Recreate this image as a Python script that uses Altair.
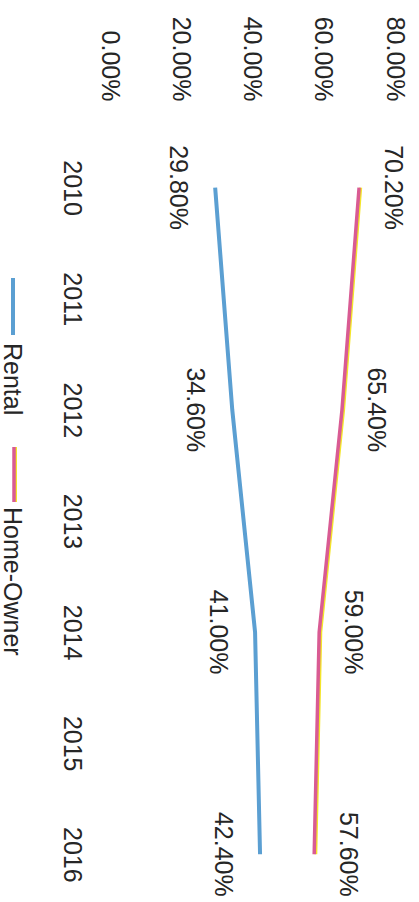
import altair as alt
import pandas as pd

# ---- data ----
years = [2010, 2012, 2014, 2016]
rental = [29.8, 34.6, 41.0, 42.4]
home_owner = [70.2, 65.4, 59.0, 57.6]
series_names = ["Rental", "Home-Owner"]
axis_years = [2010, 2011, 2012, 2013, 2014, 2015, 2016]
pct_ticks = [0, 20, 40, 60, 80]

df = pd.DataFrame({
    "year": years * 2,
    "series": [series_names[0]] * len(years) + [series_names[1]] * len(years),
    "value": rental + home_owner,
})

FONT = "Liberation Sans"
TXT = "#262626"
BLUE = "#5b9fd2"
PINK = "#d95b93"
YELLOW = "#f3e52a"
FS = 25

W, H = 285, 769

x_scale = alt.Scale(domain=[0, 80], nice=False, zero=True)
y_scale = alt.Scale(domain=[2009.5, 2016.42], nice=False, zero=False, reverse=True)

x_axis = alt.Axis(
    orient="top", values=pct_ticks,
    labelExpr="format(datum.value / 100, '.2%')",
    labelAngle=90, labelAlign="right", labelBaseline="middle",
    labelPadding=31, ticks=False, tickSize=0, domain=False, grid=False,
    title=None, labelFont=FONT, labelFontSize=FS, labelColor=TXT,
    labelOverlap=False, labelFlush=False,
)
y_axis = alt.Axis(
    orient="left", values=axis_years, format="d",
    labelAngle=90, labelAlign="center", labelBaseline="middle",
    labelPadding=38, ticks=False, tickSize=0, domain=False, grid=False,
    title=None, labelFont=FONT, labelFontSize=FS, labelColor=TXT,
    labelOverlap=False, labelFlush=False,
)

def X(field):
    return alt.X(field, scale=x_scale, axis=x_axis)

def Y():
    return alt.Y("year:Q", scale=y_scale, axis=y_axis)

base = alt.Chart(df)

rental_line = base.transform_filter(alt.datum.series == "Rental").mark_line(
    color=BLUE, strokeWidth=4
).encode(x=X("value:Q"), y=Y())

owner_glow = base.transform_filter(alt.datum.series == "Home-Owner").transform_calculate(
    shifted="datum.value + 0.45"
).mark_line(color=YELLOW, strokeWidth=3).encode(x=X("shifted:Q"), y=Y())

owner_line = base.transform_filter(alt.datum.series == "Home-Owner").mark_line(
    color=PINK, strokeWidth=3.5
).encode(x=X("value:Q"), y=Y())

label_calc = "format(datum.value / 100, '.2%')"

rental_labels = base.transform_filter(alt.datum.series == "Rental").transform_calculate(
    lab=label_calc
).mark_text(
    angle=90, align="center", baseline="middle", dy=37.5,
    font=FONT, fontSize=FS, color=TXT,
).encode(x=X("value:Q"), y=Y(), text="lab:N")

owner_labels = base.transform_filter(alt.datum.series == "Home-Owner").transform_calculate(
    lab=label_calc
).mark_text(
    angle=90, align="center", baseline="middle", dy=-34,
    font=FONT, fontSize=FS, color=TXT,
).encode(x=X("value:Q"), y=Y(), text="lab:N")

# ---- legend (rotated, drawn by hand) ----
one = pd.DataFrame({"k": [0]})
leg_rental_sym = alt.Chart(one).mark_rule(color=BLUE, strokeWidth=4).encode(
    x=alt.value(-96), y=alt.value(146), y2=alt.value(203)
)
leg_rental_txt = alt.Chart(one).mark_text(
    angle=90, align="left", baseline="middle", font=FONT, fontSize=FS, color=TXT,
    text=series_names[0],
).encode(x=alt.value(-97), y=alt.value(211))

leg_owner_glow = alt.Chart(one).mark_rule(color=YELLOW, strokeWidth=3).encode(
    x=alt.value(-93.5), y=alt.value(315), y2=alt.value(370)
)
leg_owner_sym = alt.Chart(one).mark_rule(color=PINK, strokeWidth=3.5).encode(
    x=alt.value(-95), y=alt.value(315), y2=alt.value(370)
)
leg_owner_txt = alt.Chart(one).mark_text(
    angle=90, align="left", baseline="middle", font=FONT, fontSize=FS, color=TXT,
    text=series_names[1],
).encode(x=alt.value(-97), y=alt.value(375))

chart = alt.layer(
    rental_line, owner_glow, owner_line, rental_labels, owner_labels,
    leg_rental_sym, leg_rental_txt, leg_owner_glow, leg_owner_sym, leg_owner_txt,
).properties(
    width=W, height=H,
    padding={"left": 109, "top": 132, "right": 25, "bottom": 1},
    autosize=alt.AutoSizeParams(type="none"),
    background="white",
).configure_view(stroke=None)

chart.save("out.html", embed_options={"renderer": "svg", "actions": False})
